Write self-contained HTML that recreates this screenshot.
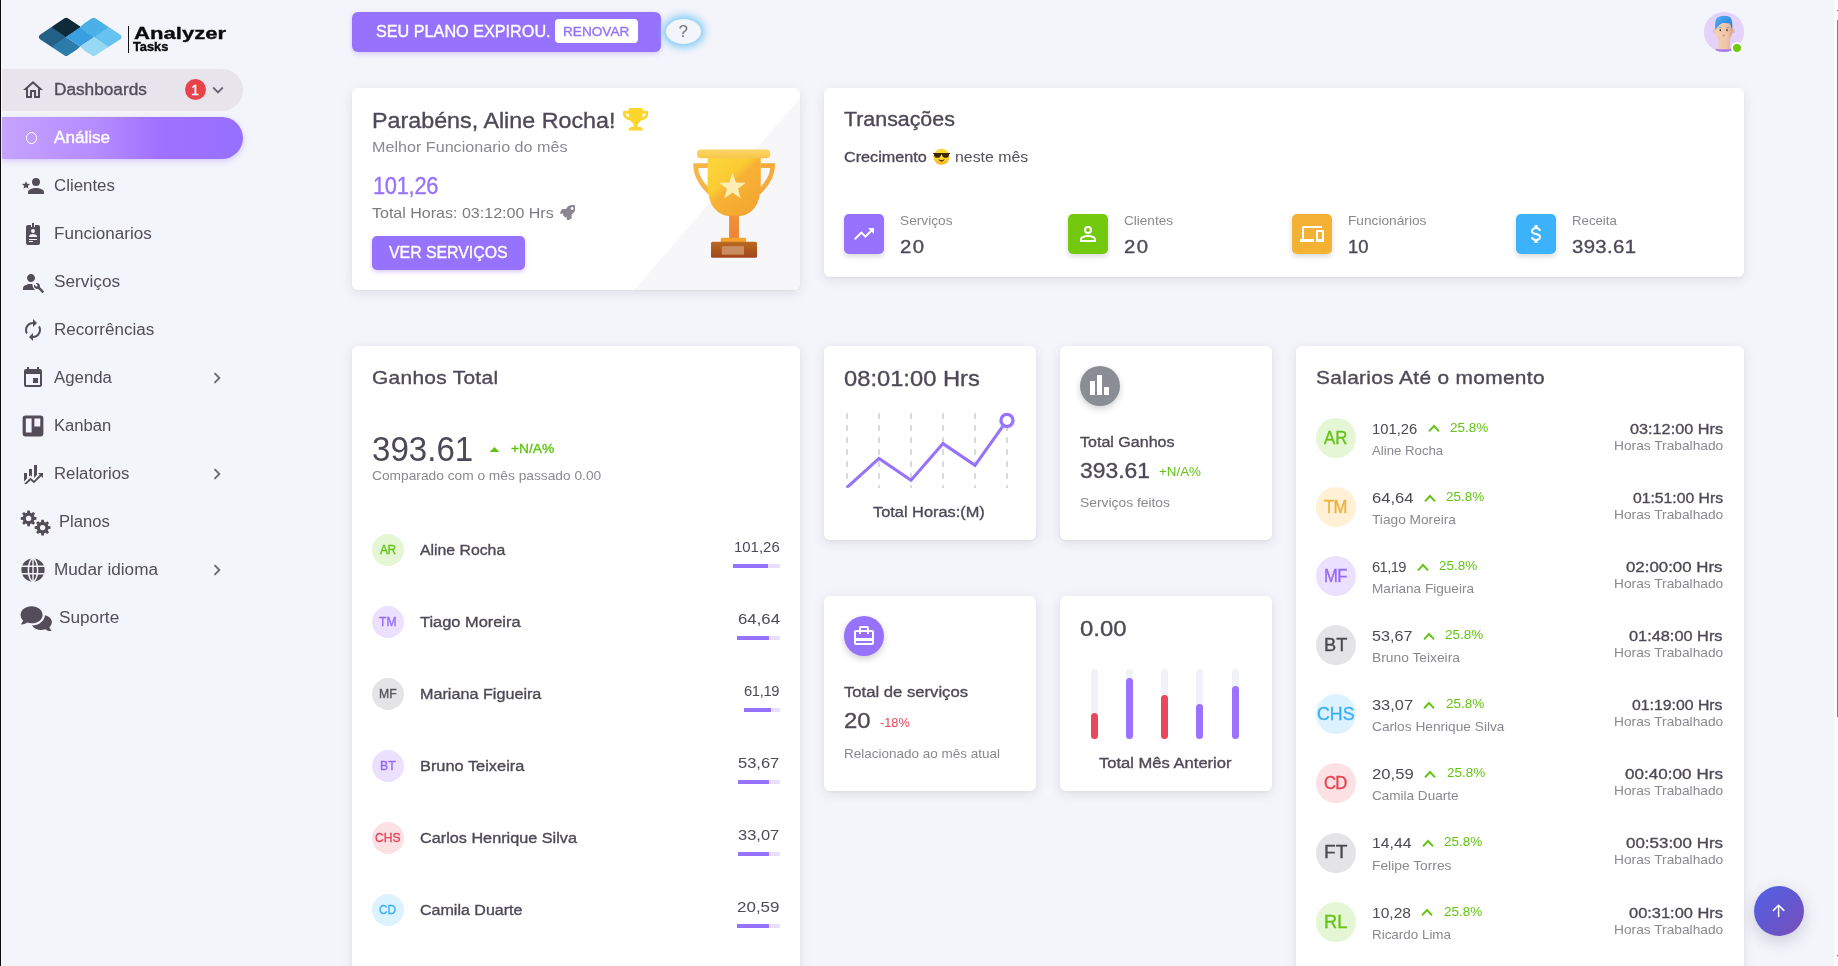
<!DOCTYPE html>
<html lang="pt"><head><meta charset="utf-8"><title>Analyzer Tasks</title>
<style>
html,body{margin:0;padding:0}
body{width:1838px;height:966px;overflow:hidden;position:relative;background:#f4f5fa;font-family:"Liberation Sans",sans-serif;}
#side{position:absolute;left:0;top:0;width:262px;height:966px;overflow:hidden}
#root{position:absolute;left:0;top:0;width:1838px;height:966px;overflow:hidden;will-change:transform}
.b{position:absolute;display:block;box-sizing:border-box}
.t{position:absolute;white-space:nowrap;line-height:1;display:block;transform-origin:0 50%}
.card{position:absolute;background:#fff;border-radius:6px;box-shadow:0 3px 12px rgba(46,38,61,.11),0 1px 3px rgba(46,38,61,.04)}
</style></head><body>
<div id="side">
<div class="b" style="left:0px;top:0px;width:1px;height:966px;background:#0a0a0a"></div>
<div class="b" style="left:1px;top:0px;width:1px;height:966px;background:#fbfbfd"></div>
<svg class="b" style="left:34px;top:14px" width="94" height="46" viewBox="34 14 94 46">
<defs><mask id="lgm"><g fill="#fff" stroke="#fff" stroke-width="6" stroke-linejoin="round">
<path d="M42 37 L66.2 20.8 L90.6 37 L66.2 53 Z"/><path d="M68.8 37 L93.6 20.8 L118.4 37 L93.6 53 Z"/></g></mask></defs>
<g mask="url(#lgm)">
<path d="M30 37 L66.2 12.700 L80.200 22 L80.200 27.350 L65.800 37 Z" fill="#0f2b3a"/>
<path d="M51.850 27.350 L66.200 17 L80.200 27.350 L65.800 37 Z" fill="#0f2b3a"/>
<path d="M30 37 L51.850 27.350 L65.800 37 L51.850 46.550 Z" fill="#245f86"/>
<path d="M30 37 L51.850 22.400 L65.800 37 L51.850 51.600 Z" fill="#245f86"/>
<path d="M51.850 27.350 L66.200 14 L80.200 27.350 L65.800 37 Z" fill="#0f2b3a"/>
<path d="M51.850 46.550 L65.800 37 L80.200 46.550 L66.200 60 Z" fill="#2b7bab"/>
<path d="M65.800 37 L80.200 27.350 L94.300 37 L80.200 46.550 Z" fill="#3a9fe0"/>
<path d="M80.200 27.350 L93.600 14 L108.200 27.350 L94.300 37 Z" fill="#49b0e8"/>
<path d="M108.200 27.350 L130 37 L108.200 46.550 L94.300 37 Z" fill="#66c2ee"/>
<path d="M108.200 22.400 L130 37 L108.200 51.600 L94.300 37 Z" fill="#66c2ee"/>
<path d="M80.200 27.350 L93.600 14 L108.200 27.350 L94.300 37 Z" fill="#49b0e8"/>
<path d="M80.200 46.550 L94.300 37 L108.200 46.550 L93.600 60 Z" fill="#97d9f4"/>
</g></svg>
<div class="b" style="left:127.6px;top:25.5px;width:1.3px;height:27.5px;background:#111"></div>
<span class="t" style="left:133.500px;top:25px;font-size:17px;font-weight:700;color:#0b0b0b;transform:scaleX(1.30);letter-spacing:0px;-webkit-text-stroke:0.35px #0b0b0b">Analyzer</span>
<span class="t" style="left:133.300px;top:41px;font-size:12px;font-weight:700;color:#0b0b0b;transform:scaleX(1.065);letter-spacing:0px;-webkit-text-stroke:0.4px #0b0b0b">Tasks</span>
<div class="b" style="left:2px;top:69px;width:241px;height:42px;background:#e7e5eb;border-radius:0 21px 21px 0"></div>
<svg class="b" style="left:21px;top:78px" width="24" height="24" viewBox="0 0 24 24" ><path fill="#524d59" d="M12 5.69L17 10.19V18H15V12H9V18H7V10.19L12 5.69M12 3L2 12H5V20H11V14H13V20H19V12H22L12 3Z"/></svg>
<span class="t" style="left:53.60px;top:82px;font-size:16px;color:#524d59;letter-spacing:0.000px;transform:scaleX(1.0759);-webkit-text-stroke:0.35px currentColor;">Dashboards</span>
<div class="b" style="left:185px;top:79px;width:21px;height:21px;background:#e8434c;border-radius:50%"></div>
<span class="t" style="left:191.30px;top:83px;font-size:14px;color:#fff;letter-spacing:0.000px;-webkit-text-stroke:0.35px currentColor;">1</span>
<svg class="b" style="left:206.8px;top:78.6px" width="22" height="22" viewBox="0 0 24 24" ><path fill="#6c6778" d="M7.41,8.58L12,13.17L16.59,8.58L18,10L12,16L6,10L7.41,8.58Z"/></svg>
<div class="b" style="left:2px;top:117px;width:241px;height:42px;background:linear-gradient(90deg,#c5a3ff 0%,#b58bff 40%,#a171ff 65%,#9670ff 100%);border-radius:0 21px 21px 0;box-shadow:0 2px 6px rgba(140,87,255,.3)"></div>
<div class="b" style="left:25.9px;top:132.4px;width:11.2px;height:11.2px;border:1.5px solid #fff;border-radius:50%"></div>
<span class="t" style="left:53.60px;top:130px;font-size:16px;color:#fff;letter-spacing:0.000px;transform:scaleX(1.0686);-webkit-text-stroke:0.35px currentColor;">Análise</span>
<span class="t" style="left:53.60px;top:178px;font-size:16px;color:#524d59;letter-spacing:0.000px;transform:scaleX(1.0536);">Clientes</span>
<span class="t" style="left:53.60px;top:226px;font-size:16px;color:#524d59;letter-spacing:0.000px;transform:scaleX(1.0666);">Funcionarios</span>
<span class="t" style="left:53.60px;top:274px;font-size:16px;color:#524d59;letter-spacing:-0.000px;transform:scaleX(1.0774);">Serviços</span>
<span class="t" style="left:53.60px;top:322px;font-size:16px;color:#524d59;letter-spacing:0.000px;transform:scaleX(1.0631);">Recorrências</span>
<span class="t" style="left:53.60px;top:370px;font-size:16px;color:#524d59;letter-spacing:-0.000px;transform:scaleX(1.0499);">Agenda</span>
<span class="t" style="left:53.60px;top:418px;font-size:16px;color:#524d59;letter-spacing:0.000px;transform:scaleX(1.0390);">Kanban</span>
<span class="t" style="left:53.60px;top:466px;font-size:16px;color:#524d59;letter-spacing:0.000px;transform:scaleX(1.0465);">Relatorios</span>
<span class="t" style="left:59.40px;top:514px;font-size:16px;color:#524d59;letter-spacing:0.000px;transform:scaleX(1.0368);">Planos</span>
<span class="t" style="left:53.60px;top:562px;font-size:16px;color:#524d59;letter-spacing:0.000px;transform:scaleX(1.0727);">Mudar idioma</span>
<span class="t" style="left:59.40px;top:610px;font-size:16px;color:#524d59;letter-spacing:-0.000px;transform:scaleX(1.0740);">Suporte</span>
<svg class="b" style="left:206.3px;top:367px" width="22" height="22" viewBox="0 0 24 24" ><path fill="#6c6778" d="M8.59,16.58L13.17,12L8.59,7.41L10,6L16,12L10,18L8.59,16.58Z"/></svg>
<svg class="b" style="left:206.3px;top:463px" width="22" height="22" viewBox="0 0 24 24" ><path fill="#6c6778" d="M8.59,16.58L13.17,12L8.59,7.41L10,6L16,12L10,18L8.59,16.58Z"/></svg>
<svg class="b" style="left:206.3px;top:559px" width="22" height="22" viewBox="0 0 24 24" ><path fill="#6c6778" d="M8.59,16.58L13.17,12L8.59,7.41L10,6L16,12L10,18L8.59,16.58Z"/></svg>
<svg class="b" style="left:21px;top:174px" width="24" height="24" viewBox="0 0 24 24" ><path fill="#524d59" d="M15,14C12.33,14 7,15.33 7,18V20H23V18C23,15.33 17.67,14 15,14M15,12A4,4 0 0,0 19,8A4,4 0 0,0 15,4A4,4 0 0,0 11,8A4,4 0 0,0 15,12M5,13.28L7.45,14.77L6.8,11.96L9,10.08L6.11,9.83L5,7.19L3.87,9.83L1,10.08L3.18,11.96L2.5,14.77L5,13.28Z"/></svg>
<svg class="b" style="left:21px;top:222px" width="24" height="24" viewBox="0 0 24 24" ><path fill="#524d59" d="M17,3H14V5H10V3H7A2,2 0 0,0 5,5V21A2,2 0 0,0 7,23H17A2,2 0 0,0 19,21V5A2,2 0 0,0 17,3M12,7A2,2 0 0,1 14,9A2,2 0 0,1 12,11A2,2 0 0,1 10,9A2,2 0 0,1 12,7M16,15H8V14C8,12.670 10.670,12 12,12C13.330,12 16,12.670 16,14V15M16,18H8V17H16V18M12,20H8V19H12V20M13,5H11V1H13V5Z"/></svg>
<svg class="b" style="left:21px;top:270px" width="24" height="24" viewBox="0 0 24 24" ><path fill="#524d59" d="M22.900 21.200L18.800 17.100C19.200 16 19 14.800 18.100 13.900C17.200 13 15.900 12.800 14.800 13.300L16.800 15.300L15.400 16.700L13.300 14.700C12.700 15.800 13 17.200 13.900 18.100C14.800 19 16.100 19.200 17.100 18.800L21.200 22.900C21.400 23.100 21.700 23.100 21.800 22.900L22.800 21.900C23.100 21.700 23.100 21.300 22.900 21.200M10 12C12.200 12 14 10.200 14 8S12.200 4 10 4 6 5.800 6 8 7.800 12 10 12M11.300 14.100C11.100 14 10.600 14 10 14C5.600 14 2 15.800 2 18V20H14.100C12.400 18.600 11.500 16.400 11.300 14.100Z"/></svg>
<svg class="b" style="left:21px;top:318px" width="24" height="24" viewBox="0 0 24 24" ><path fill="#524d59" d="M12,6V9L16,5L12,1V4A8,8 0 0,0 4,12C4,13.57 4.46,15.03 5.24,16.26L6.7,14.8C6.25,13.97 6,13 6,12A6,6 0 0,1 12,6M18.76,7.74L17.3,9.2C17.74,10.04 18,11 18,12A6,6 0 0,1 12,18V15L8,19L12,23V20A8,8 0 0,0 20,12C20,10.43 19.54,8.97 18.76,7.74Z"/></svg>
<svg class="b" style="left:21px;top:366px" width="24" height="24" viewBox="0 0 24 24" ><path fill="#524d59" d="M19,19H5V8H19M16,1V3H8V1H6V3H5C3.89,3 3,3.89 3,5V19A2,2 0 0,0 5,21H19A2,2 0 0,0 21,19V5C21,3.89 20.1,3 19,3H18V1M17,12H12V17H17V12Z"/></svg>
<svg class="b" style="left:21px;top:414px" width="24" height="24" viewBox="1.600 1.600 20.800 20.800"><path fill="#524d59" fill-rule="evenodd" d="M5.500,3H18.500A2.500,2.500 0 0,1 21,5.500V18.500A2.500,2.500 0 0,1 18.500,21H5.500A2.500,2.500 0 0,1 3,18.500V5.500A2.500,2.500 0 0,1 5.500,3M5.800,5.600V17.600H10.800V5.600ZM13.200,5.600V12.400H18.300V5.600Z"/></svg>
<svg class="b" style="left:21px;top:462px" width="24" height="24" viewBox="0 0 24 24" ><path fill="#524d59" d="M6,16.5L3,19.44V11H6M11,14.66L9.43,13.32L8,14.64V7H11M16,13L13,16V3H16M18.81,12.81L17,11H22V16L20.21,14.21L13,21.36L9.53,18.34L5.75,22H3L9.47,15.66L13,18.64"/></svg>
<svg class="b" style="left:20px;top:510px" width="32" height="26" viewBox="0 0 32 26"><path fill="#524d59" fill-rule="evenodd" d="M16.50 7.15 L16.50 9.65 L14.28 10.00 L13.75 11.28 L15.07 13.10 L13.30 14.87 L11.48 13.55 L10.20 14.08 L9.85 16.30 L7.35 16.30 L7.00 14.08 L5.72 13.55 L3.90 14.87 L2.13 13.10 L3.45 11.28 L2.92 10.00 L0.70 9.65 L0.70 7.15 L2.92 6.80 L3.45 5.52 L2.13 3.70 L3.90 1.93 L5.72 3.25 L7.00 2.72 L7.35 0.50 L9.85 0.50 L10.20 2.72 L11.48 3.25 L13.30 1.93 L15.07 3.70 L13.75 5.52 L14.28 6.80Z M5.90 8.40 A2.7 2.7 0 1 0 11.30 8.40 A2.7 2.7 0 1 0 5.90 8.40Z M30.50 16.35 L30.50 18.85 L28.28 19.20 L27.75 20.48 L29.07 22.30 L27.30 24.07 L25.48 22.75 L24.20 23.28 L23.85 25.50 L21.35 25.50 L21.00 23.28 L19.72 22.75 L17.90 24.07 L16.13 22.30 L17.45 20.48 L16.92 19.20 L14.70 18.85 L14.70 16.35 L16.92 16.00 L17.45 14.72 L16.13 12.90 L17.90 11.13 L19.72 12.45 L21.00 11.92 L21.35 9.70 L23.85 9.70 L24.20 11.92 L25.48 12.45 L27.30 11.13 L29.07 12.90 L27.75 14.72 L28.28 16.00Z M19.90 17.60 A2.7 2.7 0 1 0 25.30 17.60 A2.7 2.7 0 1 0 19.90 17.60Z"/></svg>
<svg class="b" style="left:21px;top:558px" width="24" height="24" viewBox="0 0 24 24"><circle cx="12" cy="12" r="11.6" fill="#524d59"/><g fill="none" stroke="#f4f5fa" stroke-width="1.5"><path d="M1 8.3H23M1 15.7H23"/><ellipse cx="12" cy="12" rx="4.6" ry="11.4"/><path d="M12 0.5V23.5" stroke-width="1.4"/></g></svg>
<svg class="b" style="left:20px;top:605px" width="32" height="26" viewBox="0 0 32 26"><g fill="#524d59"><path d="M11.6 1.2C5.5 1.2 0.6 5.1 0.6 9.9C0.6 12 1.5 13.9 3.1 15.4C2.6 17.2 1.2 18.8 1.2 18.8C1.1 18.9 1.1 19.1 1.1 19.2C1.2 19.4 1.3 19.4 1.5 19.4C4.1 19.4 6.1 18.2 7.1 17.4C8.5 17.9 10 18.2 11.6 18.2C17.7 18.2 22.6 14.5 22.6 9.9C22.6 5.1 17.7 1.2 11.6 1.2Z"/><path d="M24.9 10.2C24.8 15.5 19.2 20.4 11.9 20.5C13.6 23.2 17 25 20.9 25C22.5 25 24 24.7 25.4 24.2C26.4 25 28.4 26.2 31 26.2C31.2 26.2 31.3 26.1 31.4 26C31.4 25.8 31.4 25.7 31.3 25.6C31.3 25.6 29.9 24 29.4 22.2C31 20.7 31.9 18.8 31.9 16.7C31.9 13.8 29.1 11.2 24.9 10.2Z"/></g></svg>
</div>
<div id="root">
<div class="b" style="left:352px;top:12px;width:309px;height:40px;background:#9672fd;border-radius:6px;box-shadow:0 2px 5px rgba(140,87,255,.28)"></div>
<span class="t" style="left:375.80px;top:24px;font-size:16px;color:#fff;letter-spacing:0.000px;transform:scaleX(1.0122);-webkit-text-stroke:0.35px currentColor;">SEU PLANO EXPIROU.</span>
<div class="b" style="left:555px;top:19px;width:83px;height:24px;background:#fff;border-radius:4px"></div>
<span class="t" style="left:563.40px;top:25px;font-size:13px;color:#9672fd;letter-spacing:-0.000px;transform:scaleX(1.0481);-webkit-text-stroke:0.35px currentColor;">RENOVAR</span>
<div class="b" style="left:666px;top:19px;width:35px;height:25px;background:#f4f5fa;border-radius:50%;box-shadow:0 0 8px 3px rgba(110,195,245,.95)"></div>
<span class="t" style="left:678.57px;top:23px;font-size:17px;color:#75747d;letter-spacing:0.000px;">?</span>
<svg class="b" style="left:1704px;top:12px" width="40" height="40" viewBox="0 0 40 40">
<defs><clipPath id="avc"><circle cx="20" cy="20" r="20"/></clipPath>
<linearGradient id="avh" x1="0" y1="0" x2="1" y2="1"><stop offset="0" stop-color="#58aef5"/><stop offset="1" stop-color="#1f7ad6"/></linearGradient>
<linearGradient id="avf" x1="0" y1="0" x2="1" y2="0"><stop offset="0" stop-color="#f7d0b4"/><stop offset="0.7" stop-color="#f0c3a5"/><stop offset="1" stop-color="#d9a688"/></linearGradient></defs>
<circle cx="20" cy="20" r="20" fill="#e2d2fc"/>
<g clip-path="url(#avc)">
<path d="M10.5 40 Q11 37 13 36.6 L27 36.6 Q29 37 29.5 40Z" fill="#a77bf0"/>
<path d="M14.8 26 L14.2 34.5 Q13.8 36.8 12.2 37.2 L27.6 37.2 Q26 36.6 25.8 34 L25.6 26Z" fill="url(#avf)"/>
<ellipse cx="10.3" cy="19.2" rx="1.5" ry="2.2" fill="#f2c5a8"/><ellipse cx="29.2" cy="19.2" rx="1.5" ry="2.2" fill="#e6b595"/>
<path d="M11.2 13 Q11 10 20 9.5 Q28.6 10 28.4 13 L28.2 21 Q27.6 27 23.5 28.4 Q20 29.4 16.4 28.4 Q12 27 11.4 21Z" fill="url(#avf)"/>
<path d="M11.4 18.2 Q10.2 9 13 5.8 Q16.5 3.6 22 3.9 Q26.6 4.2 27.6 7.5 Q28.8 12 28.2 18.3 Q27.2 14 25.8 11.6 Q22.6 10.6 18.6 11.1 Q15.6 12.2 14 14.4 Q12.6 15.6 11.4 18.2Z" fill="url(#avh)"/>
<rect x="14.6" y="15.2" width="3.2" height="0.9" rx=".4" fill="#5aa3e6"/><rect x="21.8" y="15.2" width="3.2" height="0.9" rx=".4" fill="#5aa3e6"/>
<ellipse cx="16.3" cy="18.2" rx="0.8" ry="1.1" fill="#4a3a36"/><ellipse cx="23" cy="18.2" rx="0.8" ry="1.1" fill="#4a3a36"/>
<path d="M18.2 23.2 Q19.7 23.6 21.2 23.2 L19.7 24.6Z" fill="#8a5e4e"/>
</g></svg>
<div class="b" style="left:1730.9px;top:41.9px;width:12px;height:12px;background:#72c90e;border-radius:50%;border:2px solid #fff"></div>
<div class="card" style="left:352px;top:88px;width:448px;height:202px;overflow:hidden"><svg width="448" height="202" style="position:absolute;left:0;top:0"><path d="M282 202 L448 10 L448 202Z" fill="#f7f7f9"/></svg></div>
<span class="t" style="left:372.00px;top:110px;font-size:22px;color:#4e4957;letter-spacing:0.000px;transform:scaleX(1.0589);-webkit-text-stroke:0.35px currentColor;">Parabéns, Aline Rocha!</span>
<svg class="b" style="left:622.8px;top:108.4px" width="25.4" height="22.6" viewBox="0 0 576 512" preserveAspectRatio="none"><path fill="#fdd52d" d="M552 64H448V24c0-13.3-10.700-24-24-24H152c-13.300 0-24 10.700-24 24v40H24C10.700 64 0 74.700 0 88v56c0 35.700 22.500 72.400 61.900 100.700 31.500 22.700 69.800 37.100 110 41.700C203.300 338.500 240 360 240 360v72h-48c-35.300 0-64 20.700-64 56v12c0 6.600 5.400 12 12 12h296c6.600 0 12-5.400 12-12v-12c0-35.300-28.700-56-64-56h-48v-72s36.700-21.500 68.100-73.600c40.300-4.600 78.600-19 110-41.700 39.300-28.300 61.900-65 61.900-100.700V88c0-13.300-10.700-24-24-24zM99.300 192.800C74.900 175.200 64 155.600 64 144v-16h64.200c1 32.600 5.800 61.200 12.800 86.200-15.100-5.200-29.200-12.400-41.700-21.400zM512 144c0 16.100-17.700 36.100-35.300 48.800-12.500 9-26.700 16.200-41.800 21.400 7-25 11.800-53.600 12.800-86.200H512v16z"/></svg>
<span class="t" style="left:372.00px;top:139px;font-size:15px;color:#8a8890;letter-spacing:0.000px;transform:scaleX(1.0757);">Melhor Funcionario do mês</span>
<span class="t" style="left:372.60px;top:175px;font-size:23px;color:#9672fd;letter-spacing:-0.302px;transform:scaleX(0.9500);-webkit-text-stroke:0.35px currentColor;">101,26</span>
<span class="t" style="left:372.00px;top:205px;font-size:15px;color:#7c7a83;letter-spacing:-0.000px;transform:scaleX(1.0682);">Total Horas: 03:12:00 Hrs</span>
<svg class="b" style="left:559.5px;top:204.5px" width="15.5" height="15.5" viewBox="0 0 512 512"><path fill="#8a8790" d="M505.100 19.100C503.800 13 499 8.200 492.900 6.900 460.700 0 435.500 0 410.400 0 307.200 0 245.300 55.200 199.100 128H94.900c-18.200 0-34.800 10.300-42.900 26.500L2.600 253.300c-8 16 3.600 34.700 21.500 34.700h95.100c-5.900 12.800-11.900 25.500-18 37.700-3.100 6.200-1.900 13.600 3 18.500l63.600 63.600c4.900 4.900 12.300 6.100 18.500 3 12.200-6.100 24.900-12 37.700-17.900V488c0 17.800 18.800 29.400 34.700 21.500l98.700-49.400c16.300-8.100 26.500-24.800 26.500-42.900V312.800c72.600-46.300 128-108.400 128-211.100.1-25.200.1-50.400-6.800-82.600zM400 160c-26.500 0-48-21.500-48-48s21.500-48 48-48 48 21.500 48 48-21.500 48-48 48z"/></svg>
<div class="b" style="left:372px;top:236px;width:153px;height:34px;background:#9672fd;border-radius:5px;box-shadow:0 2px 4px rgba(140,87,255,.3)"></div>
<span class="t" style="left:388.80px;top:245px;font-size:16px;color:#fff;letter-spacing:0.000px;transform:scaleX(0.9904);-webkit-text-stroke:0.35px currentColor;">VER SERVIÇOS</span>
<svg class="b" style="left:690px;top:146px" width="90" height="116" viewBox="690 146 90 116">
<defs><linearGradient id="tc" x1="0.1" y1="0" x2="0.9" y2="1"><stop offset="0" stop-color="#fbd63a"/><stop offset="0.36" stop-color="#fbcb33"/><stop offset="0.47" stop-color="#f6b236"/><stop offset="1" stop-color="#f3a42e"/></linearGradient>
<linearGradient id="tr" x1="0" y1="0" x2="0" y2="1"><stop offset="0" stop-color="#fbd564"/><stop offset="1" stop-color="#f9c64c"/></linearGradient>
<linearGradient id="tb" x1="0" y1="0" x2="0" y2="1"><stop offset="0" stop-color="#b96a22"/><stop offset="1" stop-color="#a2431a"/></linearGradient>
<linearGradient id="ts" x1="0" y1="0" x2="0" y2="1"><stop offset="0" stop-color="#f09236"/><stop offset="1" stop-color="#ee8338"/></linearGradient></defs>
<path d="M708 163.2 H693.2 Q693 180 708.500 194.500 L711 190 Q698.500 178 698.300 168 H708Z" fill="#f6b548"/>
<path d="M760.500 163.200 H775.200 Q775.400 180 760 194.500 L757.500 190 Q770 178 770.100 168 H760.500Z" fill="#f4ab3c"/>
<path d="M707.600 156 H760.800 V184 Q760.800 216.600 734.200 216.600 Q707.600 216.600 707.600 184Z" fill="url(#tc)"/>
<rect x="697" y="149.400" width="73.200" height="8.800" rx="3.600" fill="url(#tr)"/>
<path d="M732.500 173.200 L735.900 182.400 L745.700 182.700 L738 188.800 L740.700 198.200 L732.500 192.800 L724.300 198.200 L727 188.800 L719.300 182.700 L729.100 182.400Z" fill="#fdeeb6"/>
<rect x="729.100" y="215.600" width="9.900" height="23" fill="url(#ts)"/>
<rect x="720.800" y="237.800" width="25.200" height="4.800" rx="1.200" fill="#f6a32e"/>
<rect x="711" y="241.800" width="46" height="16" rx="1.600" fill="url(#tb)"/>
<rect x="721.700" y="246.100" width="22.300" height="8.600" fill="#c98e60"/>
</svg>
<div class="card" style="left:824px;top:88px;width:920px;height:188.500px"></div>
<span class="t" style="left:844.20px;top:110px;font-size:19.5px;color:#4e4957;letter-spacing:0.000px;transform:scaleX(1.0954);-webkit-text-stroke:0.35px currentColor;">Transações</span>
<span class="t" style="left:844.20px;top:149px;font-size:15px;color:#4e4957;letter-spacing:0.000px;transform:scaleX(1.0795);-webkit-text-stroke:0.35px currentColor;">Crecimento</span>
<svg class="b" style="left:932px;top:148px" width="19" height="18" viewBox="932 148 19 18">
<defs><radialGradient id="em" cx="0.5" cy="0.35" r="0.65"><stop offset="0" stop-color="#ffe336"/><stop offset="0.7" stop-color="#fdcf2e"/><stop offset="1" stop-color="#f6a71f"/></radialGradient></defs>
<circle cx="941.500" cy="156.800" r="8" fill="url(#em)"/>
<path d="M932.800 152.900 H950.200 L949.700 154 L949 154 Q949 157.700 946.400 157.700 H944.500 Q942.600 157.600 942.100 155.200 L941.500 154.300 L940.900 155.200 Q940.400 157.600 938.500 157.700 H936.600 Q934 157.700 934 154 L933.300 154Z" fill="#3b2503"/>
<path d="M938.300 159.300 Q941.500 160.800 944.700 159.300 Q943.600 161.700 941.500 161.700 Q939.400 161.700 938.300 159.300Z" fill="#5a3605"/>
</svg>
<span class="t" style="left:955.40px;top:149px;font-size:15px;color:#55505e;letter-spacing:0.000px;transform:scaleX(1.0578);">neste mês</span>
<div class="b" style="left:844px;top:214px;width:40px;height:40px;background:#9672fd;border-radius:5px;box-shadow:0 3px 5px rgba(46,38,61,.16)"></div>
<svg class="b" style="left:852px;top:222px" width="24" height="24" viewBox="0 0 24 24" ><path fill="#fff" d="M16,6L18.29,8.29L13.41,13.17L9.41,9.17L2,16.59L3.41,18L9.41,12L13.41,16L19.71,9.71L22,12V6H16Z"/></svg>
<span class="t" style="left:900.00px;top:214px;font-size:13px;color:#8a8890;letter-spacing:-0.000px;transform:scaleX(1.0532);">Serviços</span>
<span class="t" style="left:900.00px;top:238px;font-size:18.5px;color:#4e4957;letter-spacing:1.218px;transform:scaleX(1.1000);-webkit-text-stroke:0.35px currentColor;">20</span>
<div class="b" style="left:1068px;top:214px;width:40px;height:40px;background:#72c90e;border-radius:5px;box-shadow:0 3px 5px rgba(46,38,61,.16)"></div>
<svg class="b" style="left:1076px;top:222px" width="24" height="24" viewBox="0 0 24 24" ><path fill="#fff" d="M12,4A4,4 0 0,1 16,8A4,4 0 0,1 12,12A4,4 0 0,1 8,8A4,4 0 0,1 12,4M12,6A2,2 0 0,0 10,8A2,2 0 0,0 12,10A2,2 0 0,0 14,8A2,2 0 0,0 12,6M12,13C14.67,13 20,14.33 20,17V20H4V17C4,14.33 9.33,13 12,13M12,14.9C9.030,14.900 5.900,16.360 5.900,17V18.100H18.100V17C18.100,16.360 14.970,14.900 12,14.900Z"/></svg>
<span class="t" style="left:1124.00px;top:214px;font-size:13px;color:#8a8890;letter-spacing:0.000px;transform:scaleX(1.0437);">Clientes</span>
<span class="t" style="left:1124.00px;top:238px;font-size:18.5px;color:#4e4957;letter-spacing:1.218px;transform:scaleX(1.1000);-webkit-text-stroke:0.35px currentColor;">20</span>
<div class="b" style="left:1292px;top:214px;width:40px;height:40px;background:#f4b235;border-radius:5px;box-shadow:0 3px 5px rgba(46,38,61,.16)"></div>
<svg class="b" style="left:1300px;top:222px" width="24" height="24" viewBox="0 0 24 24" ><path fill="#fff" d="M22,17H18V10H22M23,8H17A1,1 0 0,0 16,9V19A1,1 0 0,0 17,20H23A1,1 0 0,0 24,19V9A1,1 0 0,0 23,8M4,6H22V4H4A2,2 0 0,0 2,6V17H0V20H14V17H4V6Z"/></svg>
<span class="t" style="left:1348.00px;top:214px;font-size:13px;color:#8a8890;letter-spacing:0.000px;transform:scaleX(1.0538);">Funcionários</span>
<span class="t" style="left:1348.00px;top:238px;font-size:18.5px;color:#4e4957;letter-spacing:0.000px;transform:scaleX(0.9951);-webkit-text-stroke:0.35px currentColor;">10</span>
<div class="b" style="left:1516px;top:214px;width:40px;height:40px;background:#3cb2fb;border-radius:5px;box-shadow:0 3px 5px rgba(46,38,61,.16)"></div>
<svg class="b" style="left:1524px;top:222px" width="24" height="24" viewBox="0 0 24 24" ><path fill="#fff" d="M7,15H9C9,16.080 10.370,17 12,17C13.630,17 15,16.080 15,15C15,13.900 13.960,13.500 11.760,12.970C9.640,12.440 7,11.780 7,9C7,7.210 8.470,5.690 10.500,5.180V3H13.500V5.180C15.530,5.690 17,7.210 17,9H15C15,7.920 13.630,7 12,7C10.370,7 9,7.920 9,9C9,10.100 10.040,10.500 12.240,11.030C14.360,11.560 17,12.220 17,15C17,16.790 15.530,18.310 13.500,18.820V21H10.500V18.820C8.470,18.310 7,16.790 7,15Z"/></svg>
<span class="t" style="left:1572.00px;top:214px;font-size:13px;color:#8a8890;letter-spacing:0.000px;transform:scaleX(1.0159);">Receita</span>
<span class="t" style="left:1572.00px;top:238px;font-size:18.5px;color:#4e4957;letter-spacing:0.316px;transform:scaleX(1.1000);-webkit-text-stroke:0.35px currentColor;">393.61</span>
<div class="card" style="left:352px;top:346px;width:448px;height:640px"></div>
<span class="t" style="left:372.00px;top:368px;font-size:19px;color:#4e4957;letter-spacing:0.268px;transform:scaleX(1.1000);-webkit-text-stroke:0.35px currentColor;">Ganhos Total</span>
<span class="t" style="left:372.30px;top:432px;font-size:34.5px;color:#4e4957;letter-spacing:0.000px;transform:scaleX(0.9592);">393.61</span>
<svg class="b" style="left:488.5px;top:446.5px" width="11" height="5.6" viewBox="0 0 10 5"><path d="M0 5 L5 0 L10 5Z" fill="#62c411"/></svg>
<span class="t" style="left:511.30px;top:442px;font-size:13px;color:#62c411;letter-spacing:0.000px;transform:scaleX(1.0588);-webkit-text-stroke:0.35px currentColor;">+N/A%</span>
<span class="t" style="left:372.00px;top:469px;font-size:13px;color:#8a8890;letter-spacing:-0.000px;transform:scaleX(1.0572);">Comparado com o mês passado 0.00</span>
<div class="b" style="left:372px;top:534px;width:32px;height:32px;background:#e4f6d3;border-radius:50%"></div>
<span class="t" style="left:380.00px;top:544px;font-size:12.5px;color:#66c31a;letter-spacing:-0.508px;transform:scaleX(0.9500);-webkit-text-stroke:0.35px currentColor;">AR</span>
<span class="t" style="left:420.00px;top:542px;font-size:15.5px;color:#4e4957;letter-spacing:0.000px;transform:scaleX(1.0191);-webkit-text-stroke:0.35px currentColor;">Aline Rocha</span>
<span class="t" style="left:733.80px;top:539px;font-size:15.5px;color:#4e4957;letter-spacing:0.000px;transform:scaleX(0.9641);">101,26</span>
<div class="b" style="left:733.4px;top:564px;width:46.6px;height:4px;background:#e9dffd"></div>
<div class="b" style="left:733.4px;top:564px;width:34.95px;height:4px;background:#9672fd"></div>
<div class="b" style="left:372px;top:606px;width:32px;height:32px;background:#ebe1ff;border-radius:50%"></div>
<span class="t" style="left:379.25px;top:616px;font-size:12.5px;color:#9568f8;letter-spacing:0.000px;transform:scaleX(0.9695);-webkit-text-stroke:0.35px currentColor;">TM</span>
<span class="t" style="left:420.00px;top:614px;font-size:15.5px;color:#4e4957;letter-spacing:0.000px;transform:scaleX(1.0584);-webkit-text-stroke:0.35px currentColor;">Tiago Moreira</span>
<span class="t" style="left:737.50px;top:611px;font-size:15.5px;color:#4e4957;letter-spacing:0.000px;transform:scaleX(1.0825);">64,64</span>
<div class="b" style="left:737.1px;top:636px;width:42.9px;height:4px;background:#e9dffd"></div>
<div class="b" style="left:737.1px;top:636px;width:32.175px;height:4px;background:#9672fd"></div>
<div class="b" style="left:372px;top:678px;width:32px;height:32px;background:#e4e4e6;border-radius:50%"></div>
<span class="t" style="left:379.20px;top:688px;font-size:12.5px;color:#54525b;letter-spacing:0.000px;transform:scaleX(0.9751);-webkit-text-stroke:0.35px currentColor;">MF</span>
<span class="t" style="left:420.00px;top:686px;font-size:15.5px;color:#4e4957;letter-spacing:0.000px;transform:scaleX(1.0434);-webkit-text-stroke:0.35px currentColor;">Mariana Figueira</span>
<span class="t" style="left:744.00px;top:683px;font-size:15.5px;color:#4e4957;letter-spacing:-0.358px;transform:scaleX(0.9500);">61,19</span>
<div class="b" style="left:743.6px;top:708px;width:36.4px;height:4px;background:#e9dffd"></div>
<div class="b" style="left:743.6px;top:708px;width:27.299999999999997px;height:4px;background:#9672fd"></div>
<div class="b" style="left:372px;top:750px;width:32px;height:32px;background:#ebe1ff;border-radius:50%"></div>
<span class="t" style="left:380.20px;top:760px;font-size:12.5px;color:#9568f8;letter-spacing:0.000px;transform:scaleX(0.9781);-webkit-text-stroke:0.35px currentColor;">BT</span>
<span class="t" style="left:420.00px;top:758px;font-size:15.5px;color:#4e4957;letter-spacing:0.000px;transform:scaleX(1.0561);-webkit-text-stroke:0.35px currentColor;">Bruno Teixeira</span>
<span class="t" style="left:738.20px;top:755px;font-size:15.5px;color:#4e4957;letter-spacing:0.000px;transform:scaleX(1.0644);">53,67</span>
<div class="b" style="left:737.8px;top:780px;width:42.199999999999996px;height:4px;background:#e9dffd"></div>
<div class="b" style="left:737.8px;top:780px;width:31.65px;height:4px;background:#9672fd"></div>
<div class="b" style="left:372px;top:822px;width:32px;height:32px;background:#fbe1e4;border-radius:50%"></div>
<span class="t" style="left:375.25px;top:832px;font-size:12.5px;color:#e5455a;letter-spacing:0.000px;transform:scaleX(0.9659);-webkit-text-stroke:0.35px currentColor;">CHS</span>
<span class="t" style="left:420.00px;top:830px;font-size:15.5px;color:#4e4957;letter-spacing:0.000px;transform:scaleX(1.0470);-webkit-text-stroke:0.35px currentColor;">Carlos Henrique Silva</span>
<span class="t" style="left:738.20px;top:827px;font-size:15.5px;color:#4e4957;letter-spacing:0.000px;transform:scaleX(1.0644);">33,07</span>
<div class="b" style="left:737.8px;top:852px;width:42.199999999999996px;height:4px;background:#e9dffd"></div>
<div class="b" style="left:737.8px;top:852px;width:31.65px;height:4px;background:#9672fd"></div>
<div class="b" style="left:372px;top:894px;width:32px;height:32px;background:#dcf2fe;border-radius:50%"></div>
<span class="t" style="left:379.40px;top:904px;font-size:12.5px;color:#3aaff5;letter-spacing:0.000px;transform:scaleX(0.9529);-webkit-text-stroke:0.35px currentColor;">CD</span>
<span class="t" style="left:420.00px;top:902px;font-size:15.5px;color:#4e4957;letter-spacing:0.000px;transform:scaleX(1.0338);-webkit-text-stroke:0.35px currentColor;">Camila Duarte</span>
<span class="t" style="left:737.00px;top:899px;font-size:15.5px;color:#4e4957;letter-spacing:0.000px;transform:scaleX(1.0954);">20,59</span>
<div class="b" style="left:736.6px;top:924px;width:43.4px;height:4px;background:#e9dffd"></div>
<div class="b" style="left:736.6px;top:924px;width:32.55px;height:4px;background:#9672fd"></div>
<div class="card" style="left:824px;top:346px;width:212px;height:194px"></div>
<span class="t" style="left:844.30px;top:368px;font-size:22px;color:#4e4957;letter-spacing:0.000px;transform:scaleX(1.0782);-webkit-text-stroke:0.35px currentColor;">08:01:00 Hrs</span>
<svg class="b" style="left:824px;top:346px" width="212" height="194" viewBox="824 346 212 194"><defs><clipPath id="lc"><rect x="846.200" y="400" width="180" height="87.700"/></clipPath></defs><path d="M847 413.2V488" stroke="#d8d8db" stroke-width="1.900" stroke-dasharray="5.800 6.200" fill="none"/><path d="M879 413.2V488" stroke="#d8d8db" stroke-width="1.900" stroke-dasharray="5.800 6.200" fill="none"/><path d="M911 413.2V488" stroke="#d8d8db" stroke-width="1.900" stroke-dasharray="5.800 6.200" fill="none"/><path d="M943 413.2V488" stroke="#d8d8db" stroke-width="1.900" stroke-dasharray="5.800 6.200" fill="none"/><path d="M975 413.2V488" stroke="#d8d8db" stroke-width="1.900" stroke-dasharray="5.800 6.200" fill="none"/><path d="M1007 413.2V488" stroke="#d8d8db" stroke-width="1.900" stroke-dasharray="5.800 6.200" fill="none"/>
<path d="M845.800 488.600 L879 458.400 L911 480.200 L943 443.600 L975 465.300 L1007 420.400" fill="none" stroke="#9672fd" stroke-width="3.100" stroke-linejoin="miter" stroke-linecap="butt" clip-path="url(#lc)"/>
<circle cx="1007" cy="421.400" r="8.500" fill="#b9a8e8" opacity=".22"/><circle cx="1007" cy="420.400" r="6" fill="#fff" stroke="#9672fd" stroke-width="3.200"/></svg>
<span class="t" style="left:873.30px;top:504px;font-size:15.5px;color:#4e4957;letter-spacing:0.000px;transform:scaleX(1.0552);-webkit-text-stroke:0.35px currentColor;">Total Horas:(M)</span>
<div class="card" style="left:1060px;top:346px;width:212px;height:194px"></div>
<div class="b" style="left:1080px;top:366px;width:40px;height:40px;background:#8a8d93;border-radius:50%;box-shadow:0 3px 6px rgba(46,38,61,.22)"></div>
<div class="b" style="left:1089.9px;top:380.8px;width:4.9px;height:14.3px;background:#fff"></div>
<div class="b" style="left:1097px;top:374.6px;width:5px;height:20.5px;background:#fff"></div>
<div class="b" style="left:1104.2px;top:386.7px;width:4.8px;height:8.4px;background:#fff"></div>
<span class="t" style="left:1080.00px;top:434px;font-size:15.5px;color:#4e4957;letter-spacing:0.000px;transform:scaleX(1.0345);-webkit-text-stroke:0.35px currentColor;">Total Ganhos</span>
<span class="t" style="left:1080.00px;top:460px;font-size:22px;color:#4e4957;letter-spacing:0.000px;transform:scaleX(1.0401);-webkit-text-stroke:0.35px currentColor;">393.61</span>
<span class="t" style="left:1159.20px;top:465px;font-size:13px;color:#62c411;letter-spacing:0.000px;transform:scaleX(1.0294);">+N/A%</span>
<span class="t" style="left:1080.00px;top:496px;font-size:13px;color:#8a8890;letter-spacing:0.000px;transform:scaleX(1.0645);">Serviços feitos</span>
<div class="card" style="left:824px;top:596px;width:212px;height:195px"></div>
<div class="b" style="left:844px;top:616px;width:40px;height:40px;background:#9672fd;border-radius:50%;box-shadow:0 3px 6px rgba(46,38,61,.22)"></div>
<svg class="b" style="left:852px;top:624px" width="24" height="24" viewBox="0 0 24 24" ><path fill="#fff" d="M20,14H4V8H7V10H9V8H15V10H17V8H20M20,19H4V17H20M9,4H15V6H9M20,6H17V4C17,2.890 16.110,2 15,2H9C7.890,2 7,2.890 7,4V6H4C2.890,6 2,6.890 2,8V19C2,20.110 2.890,21 4,21H20C21.110,21 22,20.110 22,19V8C22,6.890 21.110,6 20,6Z"/></svg>
<span class="t" style="left:844.00px;top:684px;font-size:15.5px;color:#4e4957;letter-spacing:0.000px;transform:scaleX(1.0741);-webkit-text-stroke:0.35px currentColor;">Total de serviços</span>
<span class="t" style="left:844.00px;top:710px;font-size:22px;color:#4e4957;letter-spacing:0.000px;transform:scaleX(1.0838);-webkit-text-stroke:0.35px currentColor;">20</span>
<span class="t" style="left:880.20px;top:716px;font-size:13px;color:#e8475c;letter-spacing:0.000px;transform:scaleX(0.9819);">-18%</span>
<span class="t" style="left:844.00px;top:747px;font-size:13px;color:#8a8890;letter-spacing:0.000px;transform:scaleX(1.0379);">Relacionado ao mês atual</span>
<div class="card" style="left:1060px;top:596px;width:212px;height:195px"></div>
<span class="t" style="left:1080.00px;top:618px;font-size:22px;color:#4e4957;letter-spacing:0.000px;transform:scaleX(1.0864);-webkit-text-stroke:0.35px currentColor;">0.00</span>
<div class="b" style="left:1090.5px;top:669px;width:7px;height:70px;background:#f1f1f8;border-radius:3.5px"></div>
<div class="b" style="left:1090.5px;top:712.5px;width:7px;height:26.5px;background:#e8475c;border-radius:3.5px"></div>
<div class="b" style="left:1125.75px;top:669px;width:7px;height:70px;background:#f1f1f8;border-radius:3.5px"></div>
<div class="b" style="left:1125.75px;top:677.5px;width:7px;height:61.5px;background:#9b71ff;border-radius:3.5px"></div>
<div class="b" style="left:1161.0px;top:669px;width:7px;height:70px;background:#f1f1f8;border-radius:3.5px"></div>
<div class="b" style="left:1161.0px;top:695px;width:7px;height:44px;background:#e8475c;border-radius:3.5px"></div>
<div class="b" style="left:1196.25px;top:669px;width:7px;height:70px;background:#f1f1f8;border-radius:3.5px"></div>
<div class="b" style="left:1196.25px;top:703.8px;width:7px;height:35.200000000000045px;background:#9b71ff;border-radius:3.5px"></div>
<div class="b" style="left:1231.5px;top:669px;width:7px;height:70px;background:#f1f1f8;border-radius:3.5px"></div>
<div class="b" style="left:1231.5px;top:686.2px;width:7px;height:52.799999999999955px;background:#9b71ff;border-radius:3.5px"></div>
<span class="t" style="left:1098.75px;top:755px;font-size:15.5px;color:#4e4957;letter-spacing:0.000px;transform:scaleX(1.0681);-webkit-text-stroke:0.35px currentColor;">Total Mês Anterior</span>
<div class="card" style="left:1296px;top:346px;width:448px;height:640px"></div>
<span class="t" style="left:1316.00px;top:368px;font-size:19px;color:#4e4957;letter-spacing:0.287px;transform:scaleX(1.1000);-webkit-text-stroke:0.35px currentColor;">Salarios Até o momento</span>
<div class="b" style="left:1316px;top:417.9px;width:40px;height:40px;background:#e4f6d3;border-radius:50%"></div>
<span class="t" style="left:1323.95px;top:430px;font-size:17.5px;color:#66c31a;letter-spacing:0.000px;transform:scaleX(0.9588);-webkit-text-stroke:0.35px currentColor;">AR</span>
<span class="t" style="left:1371.80px;top:421px;font-size:15.5px;color:#4e4957;letter-spacing:0.000px;transform:scaleX(0.9557);">101,26</span>
<svg class="b" style="left:1427.6px;top:424.4px" width="12" height="8.500" viewBox="0 0 12 8.500"><path d="M1 7.300 L6 2 L11 7.300" fill="none" stroke="#62c411" stroke-width="1.900"/></svg>
<span class="t" style="left:1450.10px;top:421px;font-size:13px;color:#62c411;letter-spacing:0.000px;transform:scaleX(1.0393);">25.8%</span>
<span class="t" style="left:1371.80px;top:444px;font-size:13px;color:#8a8890;letter-spacing:0.000px;transform:scaleX(1.0157);">Aline Rocha</span>
<span class="t" style="left:1629.50px;top:421px;font-size:15.5px;color:#4e4957;letter-spacing:0.000px;transform:scaleX(1.0479);-webkit-text-stroke:0.35px currentColor;">03:12:00 Hrs</span>
<span class="t" style="left:1613.60px;top:439px;font-size:13px;color:#8a8890;letter-spacing:0.000px;transform:scaleX(1.0566);">Horas Trabalhado</span>
<div class="b" style="left:1316px;top:487.0px;width:40px;height:40px;background:#fff0d6;border-radius:50%"></div>
<span class="t" style="left:1323.95px;top:499px;font-size:17.5px;color:#f3b038;letter-spacing:-0.724px;transform:scaleX(0.9500);-webkit-text-stroke:0.35px currentColor;">TM</span>
<span class="t" style="left:1371.80px;top:490px;font-size:15.5px;color:#4e4957;letter-spacing:0.000px;transform:scaleX(1.0696);">64,64</span>
<svg class="b" style="left:1423.8px;top:493.5px" width="12" height="8.500" viewBox="0 0 12 8.500"><path d="M1 7.300 L6 2 L11 7.300" fill="none" stroke="#62c411" stroke-width="1.900"/></svg>
<span class="t" style="left:1446.30px;top:490px;font-size:13px;color:#62c411;letter-spacing:0.000px;transform:scaleX(1.0393);">25.8%</span>
<span class="t" style="left:1371.80px;top:513px;font-size:13px;color:#8a8890;letter-spacing:0.000px;transform:scaleX(1.0533);">Tiago Moreira</span>
<span class="t" style="left:1632.50px;top:490px;font-size:15.5px;color:#4e4957;letter-spacing:0.000px;transform:scaleX(1.0141);-webkit-text-stroke:0.35px currentColor;">01:51:00 Hrs</span>
<span class="t" style="left:1613.60px;top:508px;font-size:13px;color:#8a8890;letter-spacing:0.000px;transform:scaleX(1.0566);">Horas Trabalhado</span>
<div class="b" style="left:1316px;top:556.0999999999999px;width:40px;height:40px;background:#ebe1ff;border-radius:50%"></div>
<span class="t" style="left:1323.95px;top:568px;font-size:17.5px;color:#9568f8;letter-spacing:-0.724px;transform:scaleX(0.9500);-webkit-text-stroke:0.35px currentColor;">MF</span>
<span class="t" style="left:1371.80px;top:559px;font-size:15.5px;color:#4e4957;letter-spacing:-0.621px;transform:scaleX(0.9500);">61,19</span>
<svg class="b" style="left:1416.8px;top:562.5999999999999px" width="12" height="8.500" viewBox="0 0 12 8.500"><path d="M1 7.300 L6 2 L11 7.300" fill="none" stroke="#62c411" stroke-width="1.900"/></svg>
<span class="t" style="left:1439.30px;top:559px;font-size:13px;color:#62c411;letter-spacing:0.000px;transform:scaleX(1.0393);">25.8%</span>
<span class="t" style="left:1371.80px;top:582px;font-size:13px;color:#8a8890;letter-spacing:0.000px;transform:scaleX(1.0456);">Mariana Figueira</span>
<span class="t" style="left:1626.00px;top:559px;font-size:15.5px;color:#4e4957;letter-spacing:-0.000px;transform:scaleX(1.0873);-webkit-text-stroke:0.35px currentColor;">02:00:00 Hrs</span>
<span class="t" style="left:1613.60px;top:577px;font-size:13px;color:#8a8890;letter-spacing:0.000px;transform:scaleX(1.0566);">Horas Trabalhado</span>
<div class="b" style="left:1316px;top:625.1999999999999px;width:40px;height:40px;background:#e4e4e6;border-radius:50%"></div>
<span class="t" style="left:1323.95px;top:637px;font-size:17.5px;color:#4b4951;letter-spacing:0.000px;transform:scaleX(1.0425);-webkit-text-stroke:0.35px currentColor;">BT</span>
<span class="t" style="left:1371.80px;top:628px;font-size:15.5px;color:#4e4957;letter-spacing:0.000px;transform:scaleX(1.0438);">53,67</span>
<svg class="b" style="left:1422.8px;top:631.6999999999999px" width="12" height="8.500" viewBox="0 0 12 8.500"><path d="M1 7.300 L6 2 L11 7.300" fill="none" stroke="#62c411" stroke-width="1.900"/></svg>
<span class="t" style="left:1445.30px;top:628px;font-size:13px;color:#62c411;letter-spacing:0.000px;transform:scaleX(1.0393);">25.8%</span>
<span class="t" style="left:1371.80px;top:651px;font-size:13px;color:#8a8890;letter-spacing:0.000px;transform:scaleX(1.0615);">Bruno Teixeira</span>
<span class="t" style="left:1629.00px;top:628px;font-size:15.5px;color:#4e4957;letter-spacing:0.000px;transform:scaleX(1.0535);-webkit-text-stroke:0.35px currentColor;">01:48:00 Hrs</span>
<span class="t" style="left:1613.60px;top:646px;font-size:13px;color:#8a8890;letter-spacing:0.000px;transform:scaleX(1.0566);">Horas Trabalhado</span>
<div class="b" style="left:1316px;top:694.3px;width:40px;height:40px;background:#dcf2fe;border-radius:50%"></div>
<span class="t" style="left:1316.85px;top:706px;font-size:17.5px;color:#3aaff5;letter-spacing:0.000px;transform:scaleX(1.0149);-webkit-text-stroke:0.35px currentColor;">CHS</span>
<span class="t" style="left:1371.80px;top:697px;font-size:15.5px;color:#4e4957;letter-spacing:0.000px;transform:scaleX(1.0567);">33,07</span>
<svg class="b" style="left:1423.3px;top:700.8px" width="12" height="8.500" viewBox="0 0 12 8.500"><path d="M1 7.300 L6 2 L11 7.300" fill="none" stroke="#62c411" stroke-width="1.900"/></svg>
<span class="t" style="left:1445.80px;top:697px;font-size:13px;color:#62c411;letter-spacing:0.000px;transform:scaleX(1.0393);">25.8%</span>
<span class="t" style="left:1371.80px;top:720px;font-size:13px;color:#8a8890;letter-spacing:0.000px;transform:scaleX(1.0537);">Carlos Henrique Silva</span>
<span class="t" style="left:1632.00px;top:697px;font-size:15.5px;color:#4e4957;letter-spacing:0.000px;transform:scaleX(1.0197);-webkit-text-stroke:0.35px currentColor;">01:19:00 Hrs</span>
<span class="t" style="left:1613.60px;top:715px;font-size:13px;color:#8a8890;letter-spacing:0.000px;transform:scaleX(1.0566);">Horas Trabalhado</span>
<div class="b" style="left:1316px;top:763.4px;width:40px;height:40px;background:#fbe1e4;border-radius:50%"></div>
<span class="t" style="left:1323.95px;top:775px;font-size:17.5px;color:#e5434f;letter-spacing:-0.774px;transform:scaleX(0.9500);-webkit-text-stroke:0.35px currentColor;">CD</span>
<span class="t" style="left:1371.80px;top:766px;font-size:15.5px;color:#4e4957;letter-spacing:0.000px;transform:scaleX(1.0747);">20,59</span>
<svg class="b" style="left:1424.0px;top:769.9px" width="12" height="8.500" viewBox="0 0 12 8.500"><path d="M1 7.300 L6 2 L11 7.300" fill="none" stroke="#62c411" stroke-width="1.900"/></svg>
<span class="t" style="left:1446.50px;top:766px;font-size:13px;color:#62c411;letter-spacing:0.000px;transform:scaleX(1.0393);">25.8%</span>
<span class="t" style="left:1371.80px;top:789px;font-size:13px;color:#8a8890;letter-spacing:0.000px;transform:scaleX(1.0409);">Camila Duarte</span>
<span class="t" style="left:1624.50px;top:766px;font-size:15.5px;color:#4e4957;letter-spacing:0.031px;transform:scaleX(1.1000);-webkit-text-stroke:0.35px currentColor;">00:40:00 Hrs</span>
<span class="t" style="left:1613.60px;top:784px;font-size:13px;color:#8a8890;letter-spacing:0.000px;transform:scaleX(1.0566);">Horas Trabalhado</span>
<div class="b" style="left:1316px;top:832.5px;width:40px;height:40px;background:#e4e4e6;border-radius:50%"></div>
<span class="t" style="left:1323.95px;top:844px;font-size:17.5px;color:#4b4951;letter-spacing:0.000px;transform:scaleX(1.0888);-webkit-text-stroke:0.35px currentColor;">FT</span>
<span class="t" style="left:1371.80px;top:835px;font-size:15.5px;color:#4e4957;letter-spacing:0.000px;transform:scaleX(1.0180);">14,44</span>
<svg class="b" style="left:1421.8px;top:839.0px" width="12" height="8.500" viewBox="0 0 12 8.500"><path d="M1 7.300 L6 2 L11 7.300" fill="none" stroke="#62c411" stroke-width="1.900"/></svg>
<span class="t" style="left:1444.30px;top:835px;font-size:13px;color:#62c411;letter-spacing:0.000px;transform:scaleX(1.0393);">25.8%</span>
<span class="t" style="left:1371.80px;top:859px;font-size:13px;color:#8a8890;letter-spacing:0.000px;transform:scaleX(1.0614);">Felipe Torres</span>
<span class="t" style="left:1625.50px;top:835px;font-size:15.5px;color:#4e4957;letter-spacing:-0.000px;transform:scaleX(1.0930);-webkit-text-stroke:0.35px currentColor;">00:53:00 Hrs</span>
<span class="t" style="left:1613.60px;top:853px;font-size:13px;color:#8a8890;letter-spacing:0.000px;transform:scaleX(1.0566);">Horas Trabalhado</span>
<div class="b" style="left:1316px;top:901.5999999999999px;width:40px;height:40px;background:#e4f6d3;border-radius:50%"></div>
<span class="t" style="left:1323.95px;top:914px;font-size:17.5px;color:#66c31a;letter-spacing:0.000px;transform:scaleX(1.0425);-webkit-text-stroke:0.35px currentColor;">RL</span>
<span class="t" style="left:1371.80px;top:905px;font-size:15.5px;color:#4e4957;letter-spacing:0.000px;transform:scaleX(1.0052);">10,28</span>
<svg class="b" style="left:1421.3px;top:908.0999999999999px" width="12" height="8.500" viewBox="0 0 12 8.500"><path d="M1 7.300 L6 2 L11 7.300" fill="none" stroke="#62c411" stroke-width="1.900"/></svg>
<span class="t" style="left:1443.80px;top:905px;font-size:13px;color:#62c411;letter-spacing:0.000px;transform:scaleX(1.0393);">25.8%</span>
<span class="t" style="left:1371.80px;top:928px;font-size:13px;color:#8a8890;letter-spacing:0.000px;transform:scaleX(1.0313);">Ricardo Lima</span>
<span class="t" style="left:1628.50px;top:905px;font-size:15.5px;color:#4e4957;letter-spacing:0.000px;transform:scaleX(1.0592);-webkit-text-stroke:0.35px currentColor;">00:31:00 Hrs</span>
<span class="t" style="left:1613.60px;top:923px;font-size:13px;color:#8a8890;letter-spacing:0.000px;transform:scaleX(1.0566);">Horas Trabalhado</span>
<div class="b" style="left:1754px;top:886px;width:50px;height:50px;border-radius:50%;background:linear-gradient(135deg,#5362e6 0%,#6257d0 50%,#7a4fb6 100%);box-shadow:0 5px 16px rgba(40,35,70,.2)"></div>
<svg class="b" style="left:1766px;top:898px" width="26" height="26" viewBox="1766 898 26 26"><path d="M1778.600 916.400 V905.200 M1773.400 910.400 L1778.600 905.200 L1783.800 910.400" fill="none" stroke="#fff" stroke-width="1.500" stroke-linecap="round" stroke-linejoin="round"/></svg>
<div class="b" style="left:1834px;top:0px;width:4px;height:966px;background:#fbfbfb"></div>
<div class="b" style="left:1837px;top:20px;width:1px;height:697px;background:#7f7f7f"></div>
<div class="b" style="left:1836.5px;top:10px;width:1.5px;height:1px;background:#555"></div>
<div class="b" style="left:1836.5px;top:954.5px;width:1.5px;height:1px;background:#555"></div>
</div>
</body></html>
